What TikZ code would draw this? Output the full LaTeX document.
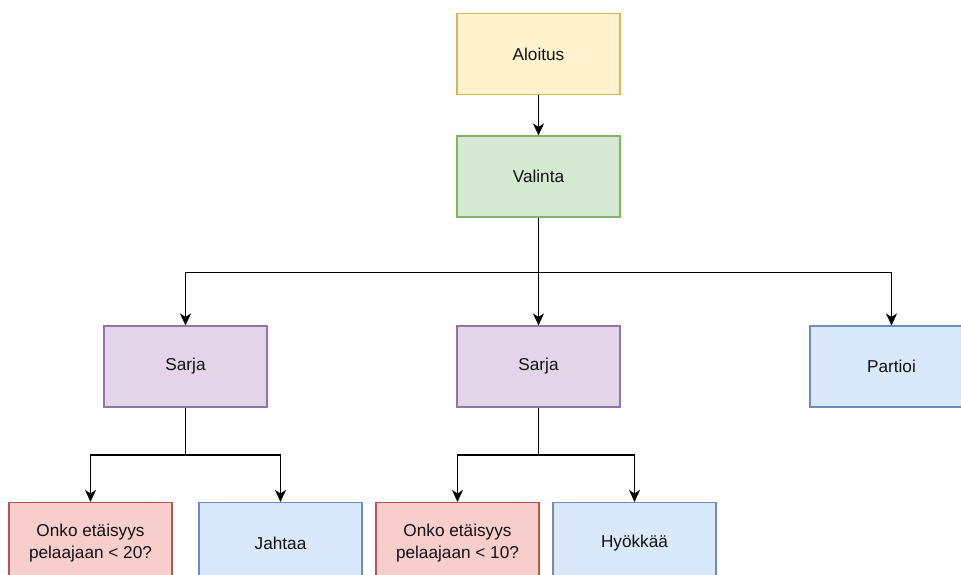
\documentclass[tikz,border=0pt]{standalone}
\usepackage{fontspec}
\setmainfont{Liberation Sans}
\usetikzlibrary{arrows.meta}
\definecolor{txt}{HTML}{111111}
\definecolor{yfill}{HTML}{FFF2CC}\definecolor{ydraw}{HTML}{D6B656}
\definecolor{gfill}{HTML}{D5E8D4}\definecolor{gdraw}{HTML}{82B366}
\definecolor{pfill}{HTML}{E1D5E7}\definecolor{pdraw}{HTML}{9673A6}
\definecolor{bfill}{HTML}{DAE8FC}\definecolor{bdraw}{HTML}{6C8EBF}
\definecolor{rfill}{HTML}{F8CECC}\definecolor{rdraw}{HTML}{B85450}
\begin{document}
\begin{tikzpicture}[x=1pt,y=1pt,
  box/.style={rectangle, minimum width=163pt, minimum height=81pt, inner sep=0pt,
    line width=1.1pt, align=center, text=txt,
    font=\fontsize{17.2}{21.5}\selectfont},
  startbox/.style={box, fill=yfill, draw=ydraw},
  choicebox/.style={box, fill=gfill, draw=gdraw},
  seqbox/.style={box, fill=pfill, draw=pdraw},
  actbox/.style={box, fill=bfill, draw=bdraw},
  condbox/.style={box, fill=rfill, draw=rdraw},
  wire/.style={line width=1.4pt},
  arr/.style={wire, -{Stealth[length=12pt,width=11pt,inset=3.5pt]}}]
\clip (0,0) rectangle (961,-575);

\node[startbox]  (aloitus) at (538.5,-54)   {Aloitus};
\node[choicebox] (valinta) at (538.5,-176.5) {Valinta};
\node[seqbox]    (sarjaA)  at (185.5,-366.5)  {Sarja};
\node[seqbox]    (sarjaB)  at (538.5,-366.5) {Sarja};
\node[actbox]    (partioi) at (891.5,-366.5) {Partioi};
\node[condbox]   (ehtoA)   at (90.5,-543)   {Onko etäisyys\\pelaajaan < 20?};
\node[actbox]    (jahtaa)  at (280.5,-543)  {Jahtaa};
\node[condbox]   (ehtoB)   at (457.5,-543)    {Onko etäisyys\\pelaajaan < 10?};
\node[actbox]    (hyokkaa) at (634.5,-543)    {Hyökkää};

% branch points
\coordinate (jV) at ([yshift=-55pt]valinta.south);
\coordinate (jA) at ([yshift=-47.5pt]sarjaA.south);
\coordinate (jB) at ([yshift=-47.5pt]sarjaB.south);

\draw[arr] (aloitus) -- (valinta);
\draw[arr] (valinta) -- (sarjaB);
\draw[arr] (jV) -| (sarjaA.north);
\draw[arr] (jV) -| (partioi.north);

\draw[wire] (sarjaA.south) -- (jA);
\draw[arr] (jA) -| (ehtoA.north);
\draw[arr] (jA) -| (jahtaa.north);
\draw[wire] (sarjaB.south) -- (jB);
\draw[arr] (jB) -| (ehtoB.north);
\draw[arr] (jB) -| (hyokkaa.north);
\end{tikzpicture}
\end{document}
